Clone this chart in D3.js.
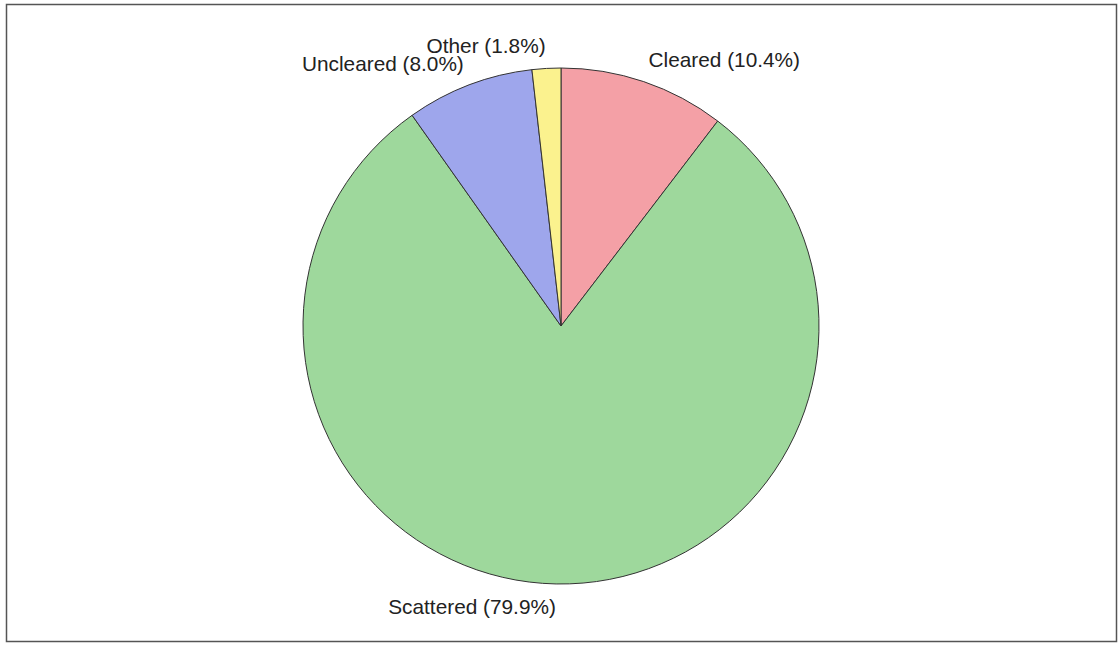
<!DOCTYPE html>
<html>
<head>
<meta charset="utf-8">
<script src="https://cdn.jsdelivr.net/npm/d3@7"></script>
<style>
  html, body { margin: 0; padding: 0; background: #ffffff; }
  svg { display: block; }
  text { font-family: "Liberation Sans", Arial, sans-serif; fill: #222; }
</style>
</head>
<body>
<svg id="chart" width="1118" height="648"></svg>
<script>
// Land-cover shares (percent), clockwise from 12 o'clock
const categories = ["Cleared", "Scattered", "Uncleared", "Other"];
const shares = [10.4, 79.9, 8.0, 1.8];
const sliceColors = ["#f4a0a6", "#9ed89c", "#9ea6ec", "#fbf28e"];

const W = 1118, H = 648;
const cx = 561, cy = 326, radius = 258, labelRadius = 273;

const svg = d3.select("#chart");

// Outer frame
svg.append("rect")
  .attr("x", 6.5).attr("y", 4.5)
  .attr("width", 1110).attr("height", 637)
  .attr("fill", "none")
  .attr("stroke", "#555")
  .attr("stroke-width", 1.5);

const data = categories.map((c, i) => ({ name: c, value: shares[i], color: sliceColors[i] }));

const pie = d3.pie().value(d => d.value).sort(null);
const arcs = pie(data);
const arc = d3.arc().innerRadius(0).outerRadius(radius);

const g = svg.append("g").attr("transform", `translate(${cx},${cy})`);

g.selectAll("path.slice")
  .data(arcs)
  .join("path")
  .attr("class", "slice")
  .attr("d", arc)
  .attr("fill", d => d.data.color)
  .attr("stroke", "#333")
  .attr("stroke-width", 1)
  .attr("stroke-linejoin", "round");

// Labels placed just outside each slice at its mid-angle
g.selectAll("text.label")
  .data(arcs)
  .join("text")
  .attr("class", "label")
  .each(function(d) {
    const mid = (d.startAngle + d.endAngle) / 2;
    const x = labelRadius * Math.sin(mid);
    const y = -labelRadius * Math.cos(mid);
    const t = d3.select(this);
    t.attr("x", x).attr("y", y)
      .attr("text-anchor", Math.sin(mid) >= 0 ? "start" : "end")
      .attr("dominant-baseline", Math.cos(mid) >= 0 ? "alphabetic" : "hanging");
  })
  .style("font-size", "20.8px")
  .text(d => `${d.data.name} (${d.data.value.toFixed(1)}%)`);
</script>
</body>
</html>
